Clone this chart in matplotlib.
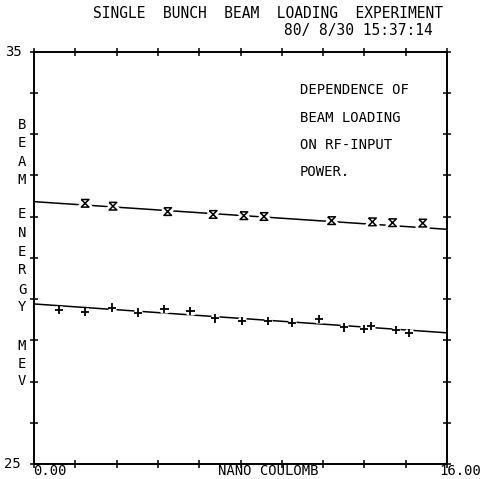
import matplotlib
matplotlib.use("Agg")
import matplotlib.pyplot as plt
import matplotlib.patheffects as pe
from matplotlib.path import Path
import numpy as np

# Data
upper_x = [1.98, 3.06, 5.18, 6.94, 8.13, 8.91, 11.53, 13.11, 13.89, 15.06]
upper_y = [31.32, 31.25, 31.12, 31.05, 31.02, 31.00, 30.90, 30.87, 30.85, 30.84]
lower_x = [0.98, 1.98, 3.02, 4.03, 5.05, 6.06, 7.00, 8.06, 9.07, 10.00,
           11.04, 12.01, 12.79, 13.05, 14.02, 14.54]
lower_y = [28.73, 28.68, 28.79, 28.67, 28.76, 28.71, 28.53, 28.47, 28.47, 28.43,
           28.52, 28.31, 28.27, 28.35, 28.25, 28.18]
fit_x = [0.0, 16.0]
upper_fit = [31.36, 30.69]
lower_fit = [28.88, 28.18]

title = "SINGLE  BUNCH  BEAM  LOADING  EXPERIMENT"
stamp = "80/ 8/30 15:37:14"
note_lines = ["DEPENDENCE OF", "BEAM LOADING", "ON RF-INPUT", "POWER."]
ylabel_letters = [("B", 125), ("E", 143), ("A", 162), ("M", 180),
                  ("E", 214), ("N", 233), ("E", 252), ("R", 270), ("G", 290), ("Y", 307),
                  ("M", 346), ("E", 364), ("V", 381)]

FONT = "DejaVu Sans Mono"
fig = plt.figure(figsize=(4.8, 4.79), dpi=100)
ax = fig.add_axes([34/480, 1-464/479, (447-34)/480, (464-51.5)/479])
ax.set_xlim(0, 16)
ax.set_ylim(25, 35)

hourglass = Path([(-1, 1), (1, 1), (-1, -1), (1, -1), (-1, 1)],
                 [Path.MOVETO, Path.LINETO, Path.LINETO, Path.LINETO, Path.LINETO])

ax.plot(fit_x, upper_fit, color="black", lw=1.1, zorder=2)
ax.plot(fit_x, lower_fit, color="black", lw=1.1, zorder=2)
stroke = [pe.Stroke(linewidth=5, foreground="white"), pe.Normal()]
ax.plot(upper_x, upper_y, linestyle="none", marker=hourglass, markersize=5.5,
        markerfacecolor="none", markeredgecolor="black", markeredgewidth=1.1,
        path_effects=stroke, zorder=3)
ax.plot(lower_x, lower_y, linestyle="none", marker="+", markersize=6,
        markeredgecolor="black", markeredgewidth=1.3,
        path_effects=stroke, zorder=3)

ax.set_xticks(np.arange(0, 16.01, 1.6))
ax.set_yticks(np.arange(25, 35.01, 1))
ax.tick_params(direction="inout", length=6, width=1.1, top=True, right=True,
               labelbottom=False, labelleft=False)
for s in ax.spines.values():
    s.set_linewidth(1.4)

def ftxt(x, y, s, size=10, **kw):
    fig.text(x/480, 1-y/479, s, family=FONT, fontsize=size, color="black", **kw)

ftxt(268, 13, title, size=10.5, ha="center", va="center")
ftxt(433, 31, stamp, size=10.5, ha="right", va="center")
ftxt(22, 52, "35", ha="right", va="center")
ftxt(21, 464, "25", ha="right", va="center")
ftxt(33, 471, "0.00", ha="left", va="center")
ftxt(481, 471, "16.00", ha="right", va="center")
ftxt(268, 471, "NANO COULOMB", ha="center", va="center")
for ch, yy in ylabel_letters:
    ftxt(22, yy, ch, ha="center", va="center")
for i, line in enumerate(note_lines):
    ftxt(300, 90 + i*27.5, line, ha="left", va="center")

fig.savefig("out.png", dpi=100, facecolor="white")
